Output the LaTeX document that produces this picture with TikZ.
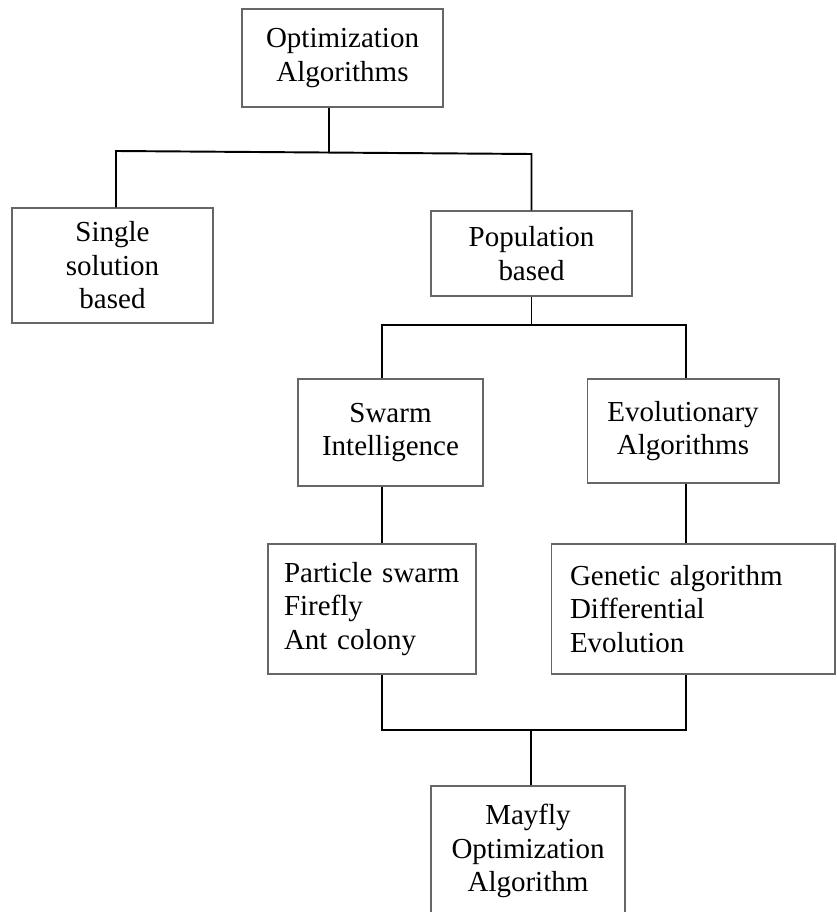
\documentclass[tikz,border=0pt]{standalone}
\usepackage{fontspec}
\setmainfont{Liberation Serif}
\usepackage{tikz}

\begin{document}
\begin{tikzpicture}[x=0.02cm,y=-0.02cm]
\tikzstyle{every node}+=[inner sep=0pt,font=\fontsize{16.5}{19.1}\selectfont]
\tikzstyle{box}=[draw=black!60,line width=0.6pt,rectangle,align=center]
\tikzstyle{listbox}=[box,align=left]
\tikzstyle{link}=[black,line width=1.1pt]
\useasboundingbox (0,0) rectangle (837,912);
\clip (0,0) rectangle (837,912);
\node [box,minimum width=4.02cm,minimum height=1.96cm] (opt) at (342.5,58) {Optimization\\Algorithms};
\node [box,minimum width=4.02cm,minimum height=2.30cm] (single) at (112.5,265.5) {Single\\solution\\based};
\node [box,minimum width=4.02cm,minimum height=1.70cm] (pop) at (531.5,253.5) {Population\\based};
\node [box,minimum width=3.70cm,minimum height=2.14cm] (swarm) at (390.5,432.5) {Swarm\\Intelligence};
\node [box,minimum width=3.84cm,minimum height=2.08cm] (evo) at (683,431) {Evolutionary\\Algorithms};
\node [listbox,text width=3.52cm,minimum width=4.16cm,minimum height=2.60cm] (pso) at (372,609) {Particle swarm\\Firefly\\Ant colony};
\node [listbox,text width=4.92cm,minimum width=5.68cm,minimum height=2.60cm] (ga) at (693,609) {Genetic algorithm\\Differential\\Evolution};
\node [box,minimum width=3.88cm,minimum height=2.60cm] (mayfly) at (528,851) {Mayfly\\Optimization\\Algorithm};
\coordinate (jl) at (116,151);
\coordinate (j0) at (329,152.5);
\coordinate (jr) at (531.5,154);
\coordinate (j1) at (531.5,325);
\coordinate (j2) at (382,730);
\coordinate (j3) at (686,730);
\coordinate (jm) at (531,730);
\draw [link] (opt.south -| j0) -- (j0);
\draw [link] (single.north -| jl) -- (jl) -- (jr) -- (pop.north);
\draw [link] (pop.south) -- (j1);
\draw [link] (swarm.north -| j2) |- (j1) -| (evo.north -| j3);
\draw [link] (swarm.south -| j2) -- (pso.north -| j2);
\draw [link] (evo.south -| j3) -- (ga.north -| j3);
\draw [link] (pso.south -| j2) -- (j2) -- (j3) -- (ga.south -| j3);
\draw [link] (jm) -- (mayfly.north -| jm);
\end{tikzpicture}
\end{document}
